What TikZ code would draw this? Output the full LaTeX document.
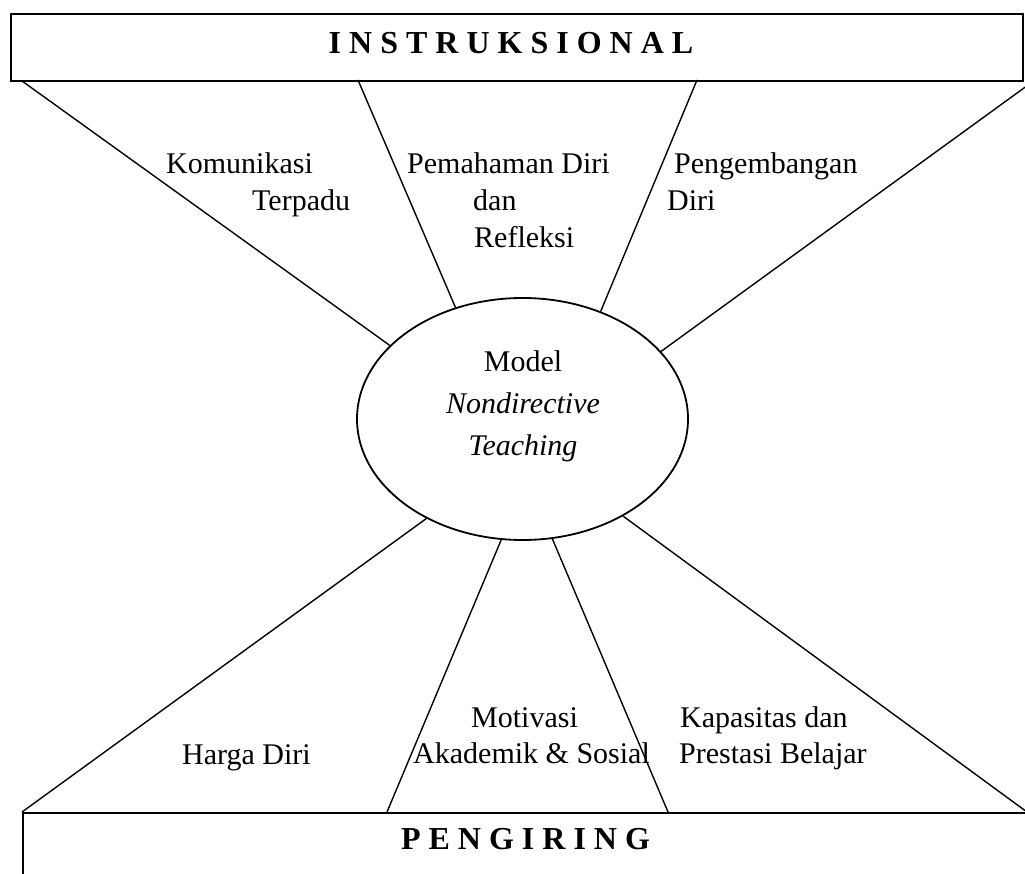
\documentclass[tikz,border=0pt]{standalone}
\usepackage{fontspec}
\setmainfont{Liberation Serif}
\usetikzlibrary{shapes.geometric}
\begin{document}
\begin{tikzpicture}[x=1pt,y=-1pt,
  box/.style={draw, line width=2pt, inner sep=0pt, anchor=north west},
  lbl/.style={inner sep=0pt, anchor=base west, font=\fontsize{30}{37}\selectfont},
  ttl/.style={inner sep=0pt, anchor=base, font=\fontsize{32}{38}\selectfont\bfseries},
  spoke/.style={line width=1.4pt}]
\useasboundingbox (0,0) rectangle (1025,874);
\clip (0,0) rectangle (1025,874);
\fill[white] (0,0) rectangle (1025,874);
% boxes
\node[box, minimum width=1012pt, minimum height=67pt] (top) at (10,13) {};
\node[box, minimum width=1030pt, minimum height=80pt] (bot) at (22,812) {};
% centre ellipse
\node[draw, ellipse, line width=1.8pt, minimum width=331pt, minimum height=242pt, inner sep=0pt] (m) at (522.5,419) {};
% free ends on boxes
\coordinate (t1) at (22,81);
\coordinate (t2) at (358,80);
\coordinate (t3) at (697,80);
\coordinate (t4) at (1035,80);
\coordinate (b1) at (22,812);
\coordinate (b2) at (387,812);
\coordinate (b3) at (668,812);
\coordinate (b4) at (1027,812);
% spokes
\draw[spoke] (t1) -- (m.151.5);
\draw[spoke] (t2) -- (m.121.3);
\draw[spoke] (t3) -- (m.54.7);
\draw[spoke] (t4) -- (m.26.6);
\draw[spoke] (b1) -- (m.226);
\draw[spoke] (b2) -- (m.260);
\draw[spoke] (b3) -- (m.284.6);
\draw[spoke] (b4) -- (m.316.3);
% titles
\node[ttl] (tt) at (511,54) {I N S T R U K S I O N A L};
\node[ttl] (bt) at (525.5,849) {P E N G I R I N G};
% centre text
\node[lbl, anchor=base] (c1) at (523,371) {Model};
\node[lbl, anchor=base] (c2) at (523,413) {\itshape Nondirective};
\node[lbl, anchor=base] (c3) at (523,455) {\itshape Teaching};
% labels
\node[lbl] (k1) at (166,174) {Komunikasi};
\node[lbl] (k2) at (252,211) {Terpadu};
\node[lbl] (p1) at (407,174) {Pemahaman Diri};
\node[lbl] (p2) at (473,211) {dan};
\node[lbl] (p3) at (474,248) {Refleksi};
\node[lbl] (g1) at (674,174) {Pengembangan};
\node[lbl] (g2) at (667,211) {Diri};
\node[lbl] (h1) at (182,764) {Harga Diri};
\node[lbl] (mo1) at (471,727) {Motivasi};
\node[lbl] (mo2) at (413,763) {Akademik \& Sosial};
\node[lbl] (ka1) at (680,727) {Kapasitas dan};
\node[lbl] (ka2) at (679,763) {Prestasi Belajar};
\end{tikzpicture}
\end{document}
